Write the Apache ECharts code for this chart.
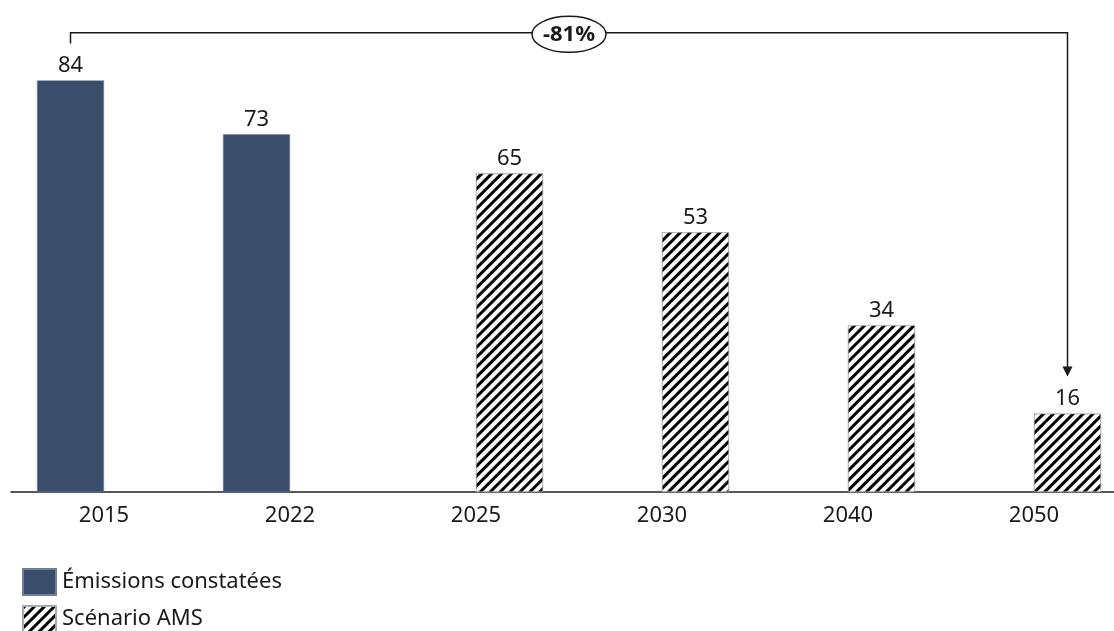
<!DOCTYPE html>
<html>
<head>
<meta charset="utf-8">
<script src="https://cdn.jsdelivr.net/npm/echarts@6/dist/echarts.min.js"></script>
<style>
html,body{margin:0;padding:0;background:#fff;}
#chart{width:1114px;height:631px;}
</style>
</head>
<body>
<div id="chart"></div>
<script>
const categories = ['2015', '2022', '2025', '2030', '2040', '2050'];
const seriesNames = ['Émissions constatées', 'Scénario AMS'];
const observed = [84, 73, null, null, null, null];
const scenario = [null, null, 65, 53, 34, 16];
const changeLabel = '-81%';

const FONT = '"Noto Sans", "DejaVu Sans", sans-serif';
const TEXT = '#1a1a1a';
const NAVY = '#3a4d6b';
const BAR_W = 67;

const chart = echarts.init(document.getElementById('chart'), null, {renderer: 'canvas'});

const hatch = {
  symbol: 'rect',
  symbolSize: 1,
  color: '#000',
  dashArrayX: [1, 0],
  dashArrayY: [3, 3.6],
  rotation: -Math.PI / 4
};

const legendBase = {
  orient: 'vertical',
  left: 22,
  padding: 0,
  itemWidth: 33,
  itemHeight: 26,
  icon: 'rect',
  textStyle: {fontSize: 22, color: TEXT, fontFamily: FONT, padding: [0, 0, 0, 1]}
};

chart.setOption({
  animation: false,
  backgroundColor: '#fff',
  textStyle: {fontFamily: FONT},
  grid: {left: 11, width: 1116, top: 2, height: 490, containLabel: false, outerBoundsMode: 'none'},
  xAxis: {
    type: 'category',
    data: categories,
    axisLine: {lineStyle: {color: '#222', width: 1.5}},
    axisTick: {show: false},
    axisLabel: {fontSize: 22, color: TEXT, fontFamily: FONT, margin: 13}
  },
  yAxis: {type: 'value', min: 0, max: 100, show: false},
  legend: [
    Object.assign({}, legendBase, {top: 568, data: [seriesNames[0]]}),
    Object.assign({}, legendBase, {top: 605, data: [seriesNames[1]]})
  ],
  series: [
    {
      name: seriesNames[0],
      type: 'bar',
      data: observed,
      barWidth: BAR_W,
      barGap: '0%',
      itemStyle: {color: NAVY, borderColor: '#6f7f96', borderWidth: 0.5},
      label: {show: true, position: 'top', distance: 4, fontSize: 22, color: TEXT, fontFamily: FONT}
    },
    {
      name: seriesNames[1],
      type: 'bar',
      data: scenario,
      barWidth: BAR_W,
      barGap: '0%',
      itemStyle: {color: '#fff', borderColor: '#aaa', borderWidth: 0.6, decal: hatch},
      label: {show: true, position: 'top', distance: 4, fontSize: 22, color: TEXT, fontFamily: FONT}
    }
  ]
});

// Annotation bracket computed from the axes
function drawBracket() {
  const first = chart.convertToPixel({xAxisIndex: 0, yAxisIndex: 0}, [categories[0], observed[0]]);
  const lastIdx = categories.length - 1;
  const last = chart.convertToPixel({xAxisIndex: 0, yAxisIndex: 0}, [categories[lastIdx], scenario[lastIdx]]);
  const topY = chart.convertToPixel({yAxisIndex: 0}, 93.7);
  const x1 = first[0] - BAR_W / 2;
  const x2 = last[0] + BAR_W / 2;
  const tickBottom = first[1] - 37;
  const arrowTip = last[1] - 37;
  const midX = (x1 + x2) / 2;
  chart.setOption({
    graphic: [
      {type: 'polyline', shape: {points: [[x1, tickBottom], [x1, topY], [x2, topY], [x2, arrowTip - 9]]},
       style: {stroke: '#1a1a1a', lineWidth: 1.5, fill: null}, z: 10},
      {type: 'polygon', shape: {points: [[x2 - 5, arrowTip - 10], [x2 + 5, arrowTip - 10], [x2, arrowTip]]},
       style: {fill: '#1a1a1a'}, z: 10},
      {type: 'ellipse', shape: {cx: midX, cy: topY + 1.5, rx: 37, ry: 18},
       style: {fill: '#fff', stroke: '#1a1a1a', lineWidth: 1.5}, z: 11},
      {type: 'text', x: midX, y: topY + 1.5, z: 12,
       style: {text: changeLabel, fontFamily: FONT, fontSize: 22, fontWeight: 'bold', fill: '#1a1a1a',
               align: 'center', verticalAlign: 'middle'}}
    ]
  });
}
drawBracket();
</script>
</body>
</html>
